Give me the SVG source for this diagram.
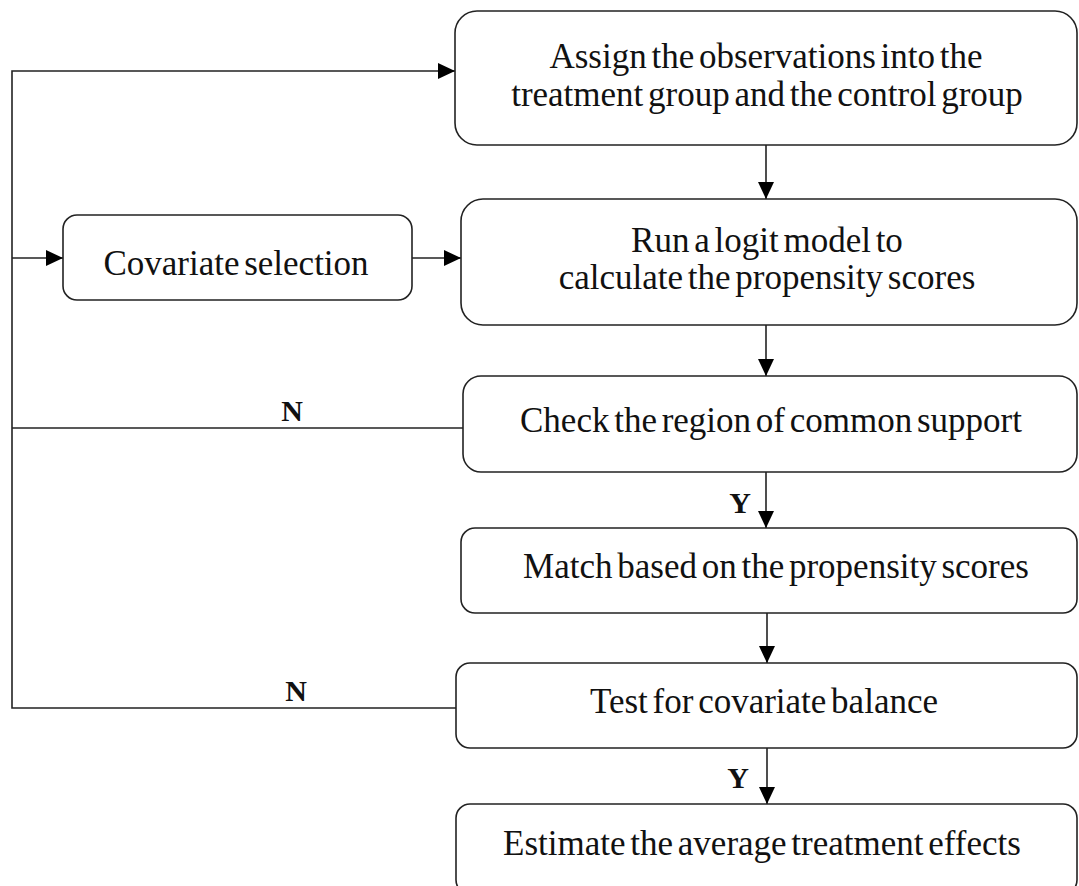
<svg xmlns="http://www.w3.org/2000/svg" width="1079" height="886" viewBox="0 0 1079 886">
<defs>
<marker id="ah" markerWidth="17" markerHeight="16" refX="17" refY="8" orient="auto" markerUnits="userSpaceOnUse">
<path d="M0,0 L17,8 L0,16 Z" fill="#000"/>
</marker>
<style>
.box{fill:#fff;stroke:#222;stroke-width:1.6}
.t{font-family:"Liberation Serif","Times New Roman",serif;font-size:35px;fill:#111;text-anchor:middle;word-spacing:-4px}
.lbl{font-family:"Liberation Serif","Times New Roman",serif;font-size:30px;font-weight:bold;fill:#111;text-anchor:middle}
.c{fill:none;stroke:#222;stroke-width:1.6}
</style>
</defs>
<rect width="1079" height="886" fill="#fff"/>
<g id="connectors">
<polyline class="c" points="463,428 12,428"/>
<polyline class="c" points="456,708 12,708 12,71 455,71" marker-end="url(#ah)"/>
<line class="c" x1="12" y1="258" x2="63" y2="258" marker-end="url(#ah)"/>
<line class="c" x1="412" y1="258" x2="461" y2="258" marker-end="url(#ah)"/>
<line class="c" x1="766" y1="145" x2="766" y2="199" marker-end="url(#ah)"/>
<line class="c" x1="766" y1="325" x2="766" y2="376" marker-end="url(#ah)"/>
<line class="c" x1="766" y1="472" x2="766" y2="528" marker-end="url(#ah)"/>
<line class="c" x1="767" y1="613" x2="767" y2="663" marker-end="url(#ah)"/>
<line class="c" x1="767" y1="748" x2="767" y2="804" marker-end="url(#ah)"/>
<text class="lbl" x="292" y="421">N</text>
<text class="lbl" x="296" y="701">N</text>
<text class="lbl" x="740" y="513">Y</text>
<text class="lbl" x="738" y="788">Y</text>
</g>
<g id="n1">
<rect class="box" x="455" y="11" width="622" height="134" rx="22"/>
<text class="t" x="766" y="68">Assign the observations into the</text>
<text class="t" x="767" y="106">treatment group and the control group</text>
</g>
<g id="n2">
<rect class="box" x="63" y="215" width="349" height="85" rx="14"/>
<text class="t" x="236" y="275">Covariate selection</text>
</g>
<g id="n3">
<rect class="box" x="461" y="199" width="616" height="126" rx="22"/>
<text class="t" x="767" y="252">Run a logit model to</text>
<text class="t" x="767" y="289">calculate the propensity scores</text>
</g>
<g id="n4">
<rect class="box" x="463" y="376" width="614" height="96" rx="18"/>
<text class="t" x="771" y="432">Check the region of common support</text>
</g>
<g id="n5">
<rect class="box" x="461" y="528" width="616" height="85" rx="14"/>
<text class="t" x="776" y="578">Match based on the propensity scores</text>
</g>
<g id="n6">
<rect class="box" x="456" y="663" width="621" height="85" rx="14"/>
<text class="t" x="764" y="713">Test for covariate balance</text>
</g>
<g id="n7">
<rect class="box" x="456" y="804" width="621" height="90" rx="14"/>
<text class="t" x="762" y="855">Estimate the average treatment effects</text>
</g>
</svg>
